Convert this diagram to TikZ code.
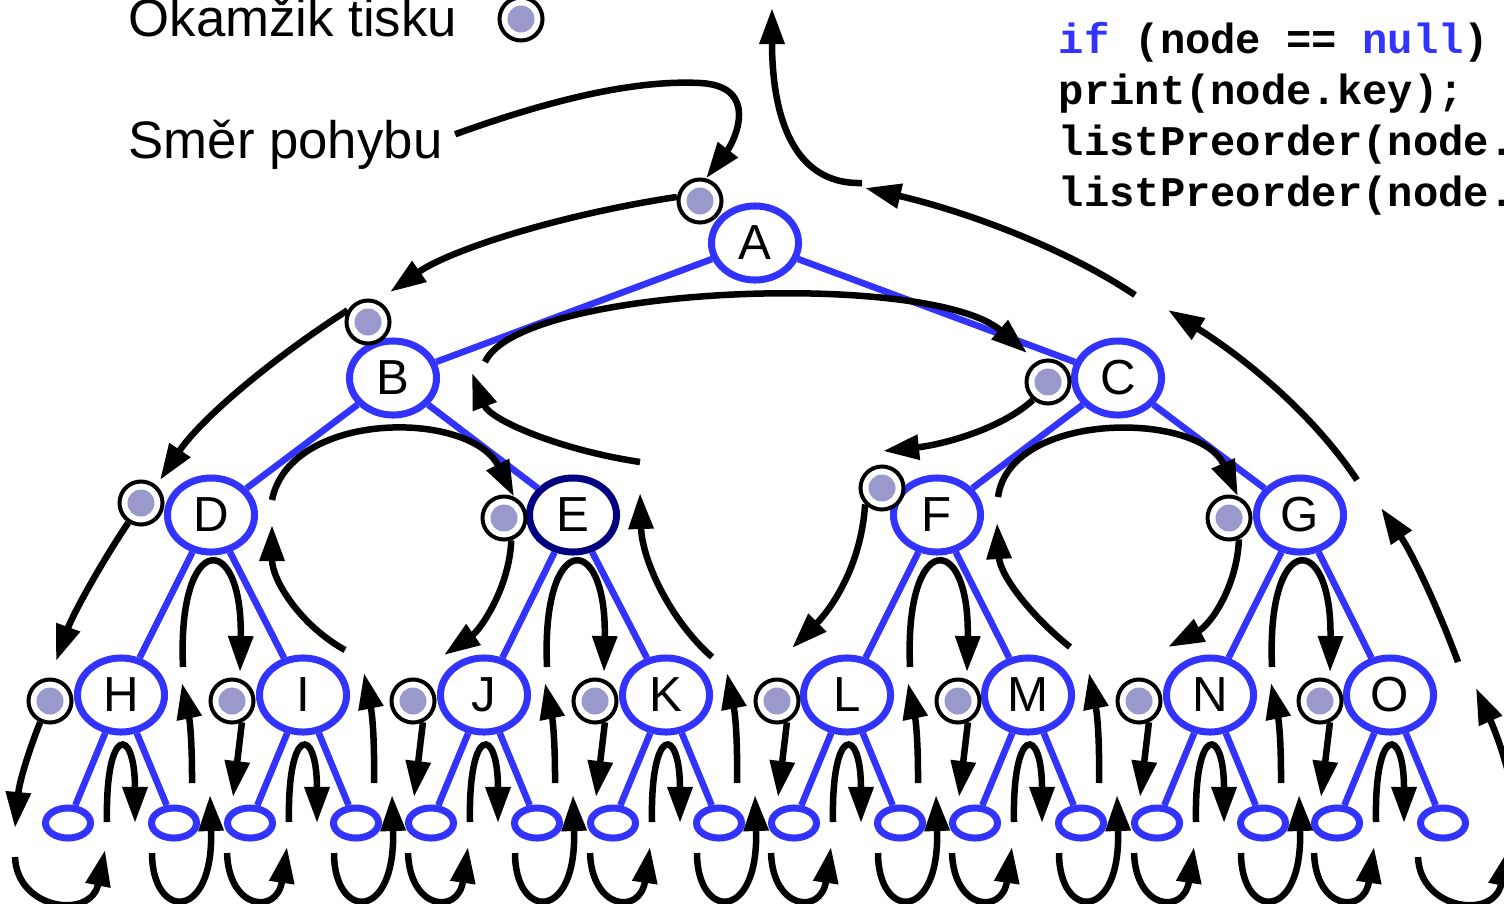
\documentclass[tikz,border=0pt]{standalone}
\usepackage{fontspec}
\setmainfont{Liberation Sans}
\setmonofont{Liberation Mono}
\usepackage{tikz}
\usetikzlibrary{shapes.geometric}
\usetikzlibrary{arrows.meta,backgrounds,calc}
\definecolor{treeblue}{HTML}{3333FF}
\definecolor{treenavy}{HTML}{000080}
\definecolor{printdot}{HTML}{9999CC}
\tikzset{tree node/.style={ellipse, draw=treeblue, fill=white, line width=0.07cm,
    minimum width=0.87cm, minimum height=0.74cm, inner sep=0pt,
    font=\fontsize{14}{16}\selectfont}}
\tikzset{null node/.style={ellipse, draw=treeblue, fill=white, line width=0.07cm,
    minimum width=0.45cm, minimum height=0.30cm, inner sep=0pt}}
\tikzset{print node/.style={circle, draw=black, fill=white, line width=0.04cm,
    minimum size=0.43cm, inner sep=0pt,
    path picture={\fill [printdot] (path picture bounding box.center) circle (0.135cm);}}}
\tikzset{tree edge/.style={draw=treeblue, line width=0.066cm}}
\tikzset{tour edge/.style={draw=black, line width=0.065cm, -{Triangle[length=0.36cm,width=0.24cm]}}}
\tikzset{legend text/.style={anchor=base west, inner sep=0pt, font=\fontsize{15}{18}\selectfont}}
\tikzset{code line/.style={anchor=base west, inner sep=0pt, font=\ttfamily\bfseries\fontsize{12}{14}\selectfont}}
\newcommand{\leftnull}[1]{%
  \draw [tour edge] (p#1.-65) -- ($(p#1)+(1,96)$);
  \draw [tour edge] ($(#1)+(-76,158)$) .. controls +(2,57) and +(-10,68) .. ($(#1)+(-16,152)$);}
\newcommand{\midloop}[1]{%
  \draw [tour edge] ($(#1)+(-14,127)$) .. controls +(-2,-97) and +(0,-98) .. ($(#1)+(14,128)$);}
\newcommand{\rightnull}[2]{%
  \draw [tour edge] ($(#1)+(31,158)$) .. controls +(0,67) and +(4,128) .. ($(#1)+(89,100)$);
  \draw [tour edge] ($(#1)+(71,88)$) to [bend right=6] ($(#1)+(61,#2)$);}

\begin{document}
\begin{tikzpicture}
  [x=0.01cm, y=-0.01cm]
  \useasboundingbox (0,0) rectangle (1504,903);

  \node [tree node]              (A)  at ( 755, 243) {A};
  \node [tree node]              (B)  at ( 393, 378) {B};
  \node [tree node]              (C)  at (1118, 378) {C};
  \node [tree node]              (D)  at ( 211, 515) {D};
  \node [tree node, draw=treenavy] (E) at ( 573, 515) {E};
  \node [tree node]              (F)  at ( 937, 515) {F};
  \node [tree node]              (G)  at (1300, 515) {G};
  \node [tree node]              (H)  at ( 121, 695) {H};
  \node [tree node]              (I)  at ( 303, 695) {I};
  \node [tree node]              (J)  at ( 484, 695) {J};
  \node [tree node]              (K)  at ( 666, 695) {K};
  \node [tree node]              (L)  at ( 847, 695) {L};
  \node [tree node]              (M)  at (1028, 695) {M};
  \node [tree node]              (N)  at (1210, 695) {N};
  \node [tree node]              (O)  at (1390, 695) {O};

  \node [null node] (H1) at (  68, 823) {};
  \node [null node] (H2) at ( 174, 823) {};
  \node [null node] (I1) at ( 250, 823) {};
  \node [null node] (I2) at ( 356, 823) {};
  \node [null node] (J1) at ( 431, 823) {};
  \node [null node] (J2) at ( 537, 823) {};
  \node [null node] (K1) at ( 613, 823) {};
  \node [null node] (K2) at ( 719, 823) {};
  \node [null node] (L1) at ( 794, 823) {};
  \node [null node] (L2) at ( 900, 823) {};
  \node [null node] (M1) at ( 975, 823) {};
  \node [null node] (M2) at (1081, 823) {};
  \node [null node] (N1) at (1157, 823) {};
  \node [null node] (N2) at (1263, 823) {};
  \node [null node] (O1) at (1337, 823) {};
  \node [null node] (O2) at (1443, 823) {};

  \begin{scope}[on background layer]
    \draw [tree edge] (A) to (B);  \draw [tree edge] (A) to (C);
    \draw [tree edge] (B) to (D);  \draw [tree edge] (B) to (E);
    \draw [tree edge] (C) to (F);  \draw [tree edge] (C) to (G);
    \draw [tree edge] (D) to (H);  \draw [tree edge] (D) to (I);
    \draw [tree edge] (E) to (J);  \draw [tree edge] (E) to (K);
    \draw [tree edge] (F) to (L);  \draw [tree edge] (F) to (M);
    \draw [tree edge] (G) to (N);  \draw [tree edge] (G) to (O);
    \draw [tree edge] (H) to (H1); \draw [tree edge] (H) to (H2);
    \draw [tree edge] (I) to (I1); \draw [tree edge] (I) to (I2);
    \draw [tree edge] (J) to (J1); \draw [tree edge] (J) to (J2);
    \draw [tree edge] (K) to (K1); \draw [tree edge] (K) to (K2);
    \draw [tree edge] (L) to (L1); \draw [tree edge] (L) to (L2);
    \draw [tree edge] (M) to (M1); \draw [tree edge] (M) to (M2);
    \draw [tree edge] (N) to (N1); \draw [tree edge] (N) to (N2);
    \draw [tree edge] (O) to (O1); \draw [tree edge] (O) to (O2);
  \end{scope}

  \node [print node] (pA) at ( 700, 201) {};
  \node [print node] (pB) at ( 368, 322) {};
  \node [print node] (pC) at (1048, 382) {};
  \node [print node] (pD) at ( 141, 503) {};
  \node [print node] (pE) at ( 504, 518) {};
  \node [print node] (pF) at ( 882, 488) {};
  \node [print node] (pG) at (1229, 518) {};
  \node [print node] (pH) at (  50, 701) {};
  \node [print node] (pI) at ( 232, 701) {};
  \node [print node] (pJ) at ( 413, 701) {};
  \node [print node] (pK) at ( 595, 701) {};
  \node [print node] (pL) at ( 777, 701) {};
  \node [print node] (pM) at ( 958, 701) {};
  \node [print node] (pN) at (1139, 701) {};
  \node [print node] (pO) at (1320, 701) {};

  \node [legend text] (okamzik)    at ( 128,  36) {Okamžik tisku};
  \node [print node]  (legend dot) at ( 521,  19) {};
  \node [legend text] (smer)       at ( 128, 158) {Směr pohybu};

  \node [code line] (code1) at (1058,  53) {\textcolor{treeblue}{if} (node == \textcolor{treeblue}{null})};
  \node [code line] (code2) at (1058, 104) {print(node.key);};
  \node [code line] (code3) at (1058, 155) {listPreorder(node.};
  \node [code line] (code4) at (1058, 206) {listPreorder(node.};

  % upper part of the walk
  \draw [tour edge] ($(smer.east)+(12,-10)$) .. controls +(105,-38) and +(-60,-3) .. ($(pA)+(0,-118)$)
                    .. controls +(60,3) and +(29,-38) .. (pA.75);
  \draw [tour edge] (pA.170) .. controls +(-118,18) and +(60,-42) .. ($(pB)+(22,-30)$);
  \draw [tour edge] (pB.150) .. controls +(-78,50) and +(40,-60) .. ($(pD)+(19,-23)$);
  \draw [tour edge] (pD.237) .. controls +(-28,42) and +(17,-47) .. ($(pH)+(6,-40)$);
  \draw [tour edge] ($(D)+(-28,152)$) .. controls +(-6,-137) and +(3,-142) .. ($(pI)+(8,-29)$);
  \draw [tour edge] ($(I)+(42,-45)$) .. controls +(-45,-25) and +(0,55) .. ($(D)+(61,10)$);
  \draw [tour edge] ($(D)+(61,-15)$) .. controls +(18,-90) and +(-44,-87) .. (pE.65);
  \draw [tour edge] (pE.-72) .. controls +(-2,48) and +(36,-25) .. ($(pJ)+(31,-46)$);
  \draw [tour edge] ($(E)+(-26,152)$) .. controls +(-6,-137) and +(3,-142) .. ($(pK)+(9,-29)$);
  \draw [tour edge] ($(K)+(46,-38)$) .. controls +(-42,-37) and +(2,67) .. ($(E)+(67,-22)$);
  \draw [tour edge] ($(E)+(67,-53)$) .. controls +(-80,-12) and +(18,47) .. ($(B)+(79,-5)$);
  \draw [tour edge] ($(B)+(92,-16)$) .. controls +(35,-77) and +(-97,-83) .. ($(pC)+(-21,-29)$);
  \draw [tour edge] (pC.230) .. controls +(-33,30) and +(57,-6) .. ($(pF)+(1,-37)$);
  \draw [tour edge] (pF.224) .. controls +(-4,63) and +(38,-38) .. ($(pL)+(15,-53)$);
  \draw [tour edge] ($(F)+(-27,152)$) .. controls +(-6,-137) and +(3,-142) .. ($(pM)+(9,-29)$);
  \draw [tour edge] ($(M)+(42,-48)$) .. controls +(-40,-32) and +(3,52) .. ($(F)+(60,8)$);
  \draw [tour edge] ($(F)+(61,-18)$) .. controls +(12,-87) and +(-38,-85) .. (pG.68);
  \draw [tour edge] (pG.-65) .. controls +(-2,48) and +(42,-22) .. ($(pN)+(29,-54)$);
  \draw [tour edge] ($(G)+(-28,152)$) .. controls +(-6,-137) and +(2,-142) .. ($(pO)+(10,-29)$);
  \draw [tour edge] ($(O)+(68,-33)$) .. controls +(-23,-62) and +(29,42) .. ($(G)+(81,-7)$);
  \draw [tour edge] ($(G)+(57,-35)$) .. controls +(-47,-70) and +(72,45) .. ($(C)+(50,-68)$);
  \draw [tour edge] ($(C)+(17,-83)$) .. controls +(-75,-50) and +(95,22) .. ($(A)+(110,-55)$);
  \draw [tour edge] ($(A)+(107,-60)$) .. controls +(-72,2) and +(0,102) .. ($(A)+(17,-235)$);

  % lowest level, round the empty leaves
  \draw [tour edge] (pH.-115) to [bend right=8] ($(pH)+(-35,127)$);
  \draw [tour edge] ($(H)+(-106,162)$) .. controls +(2,53) and +(-14,70) .. ($(H)+(-16,155)$);
  \midloop{H} \rightnull{H}{-12}
  \leftnull{I} \midloop{I} \rightnull{I}{-22}
  \leftnull{J} \midloop{J} \rightnull{J}{-12}
  \leftnull{K} \midloop{K} \rightnull{K}{-22}
  \leftnull{L} \midloop{L} \rightnull{L}{-12}
  \leftnull{M} \midloop{M} \rightnull{M}{-22}
  \leftnull{N} \midloop{N} \rightnull{N}{-12}
  \leftnull{O} \midloop{O}
  \draw [tour edge] ($(O)+(28,162)$) .. controls +(2,53) and +(-14,70) .. ($(O)+(118,155)$);
  \draw [tour edge] ($(O)+(132,135)$) to [bend right=6] ($(O)+(86,-7)$);
\end{tikzpicture}
\end{document}
